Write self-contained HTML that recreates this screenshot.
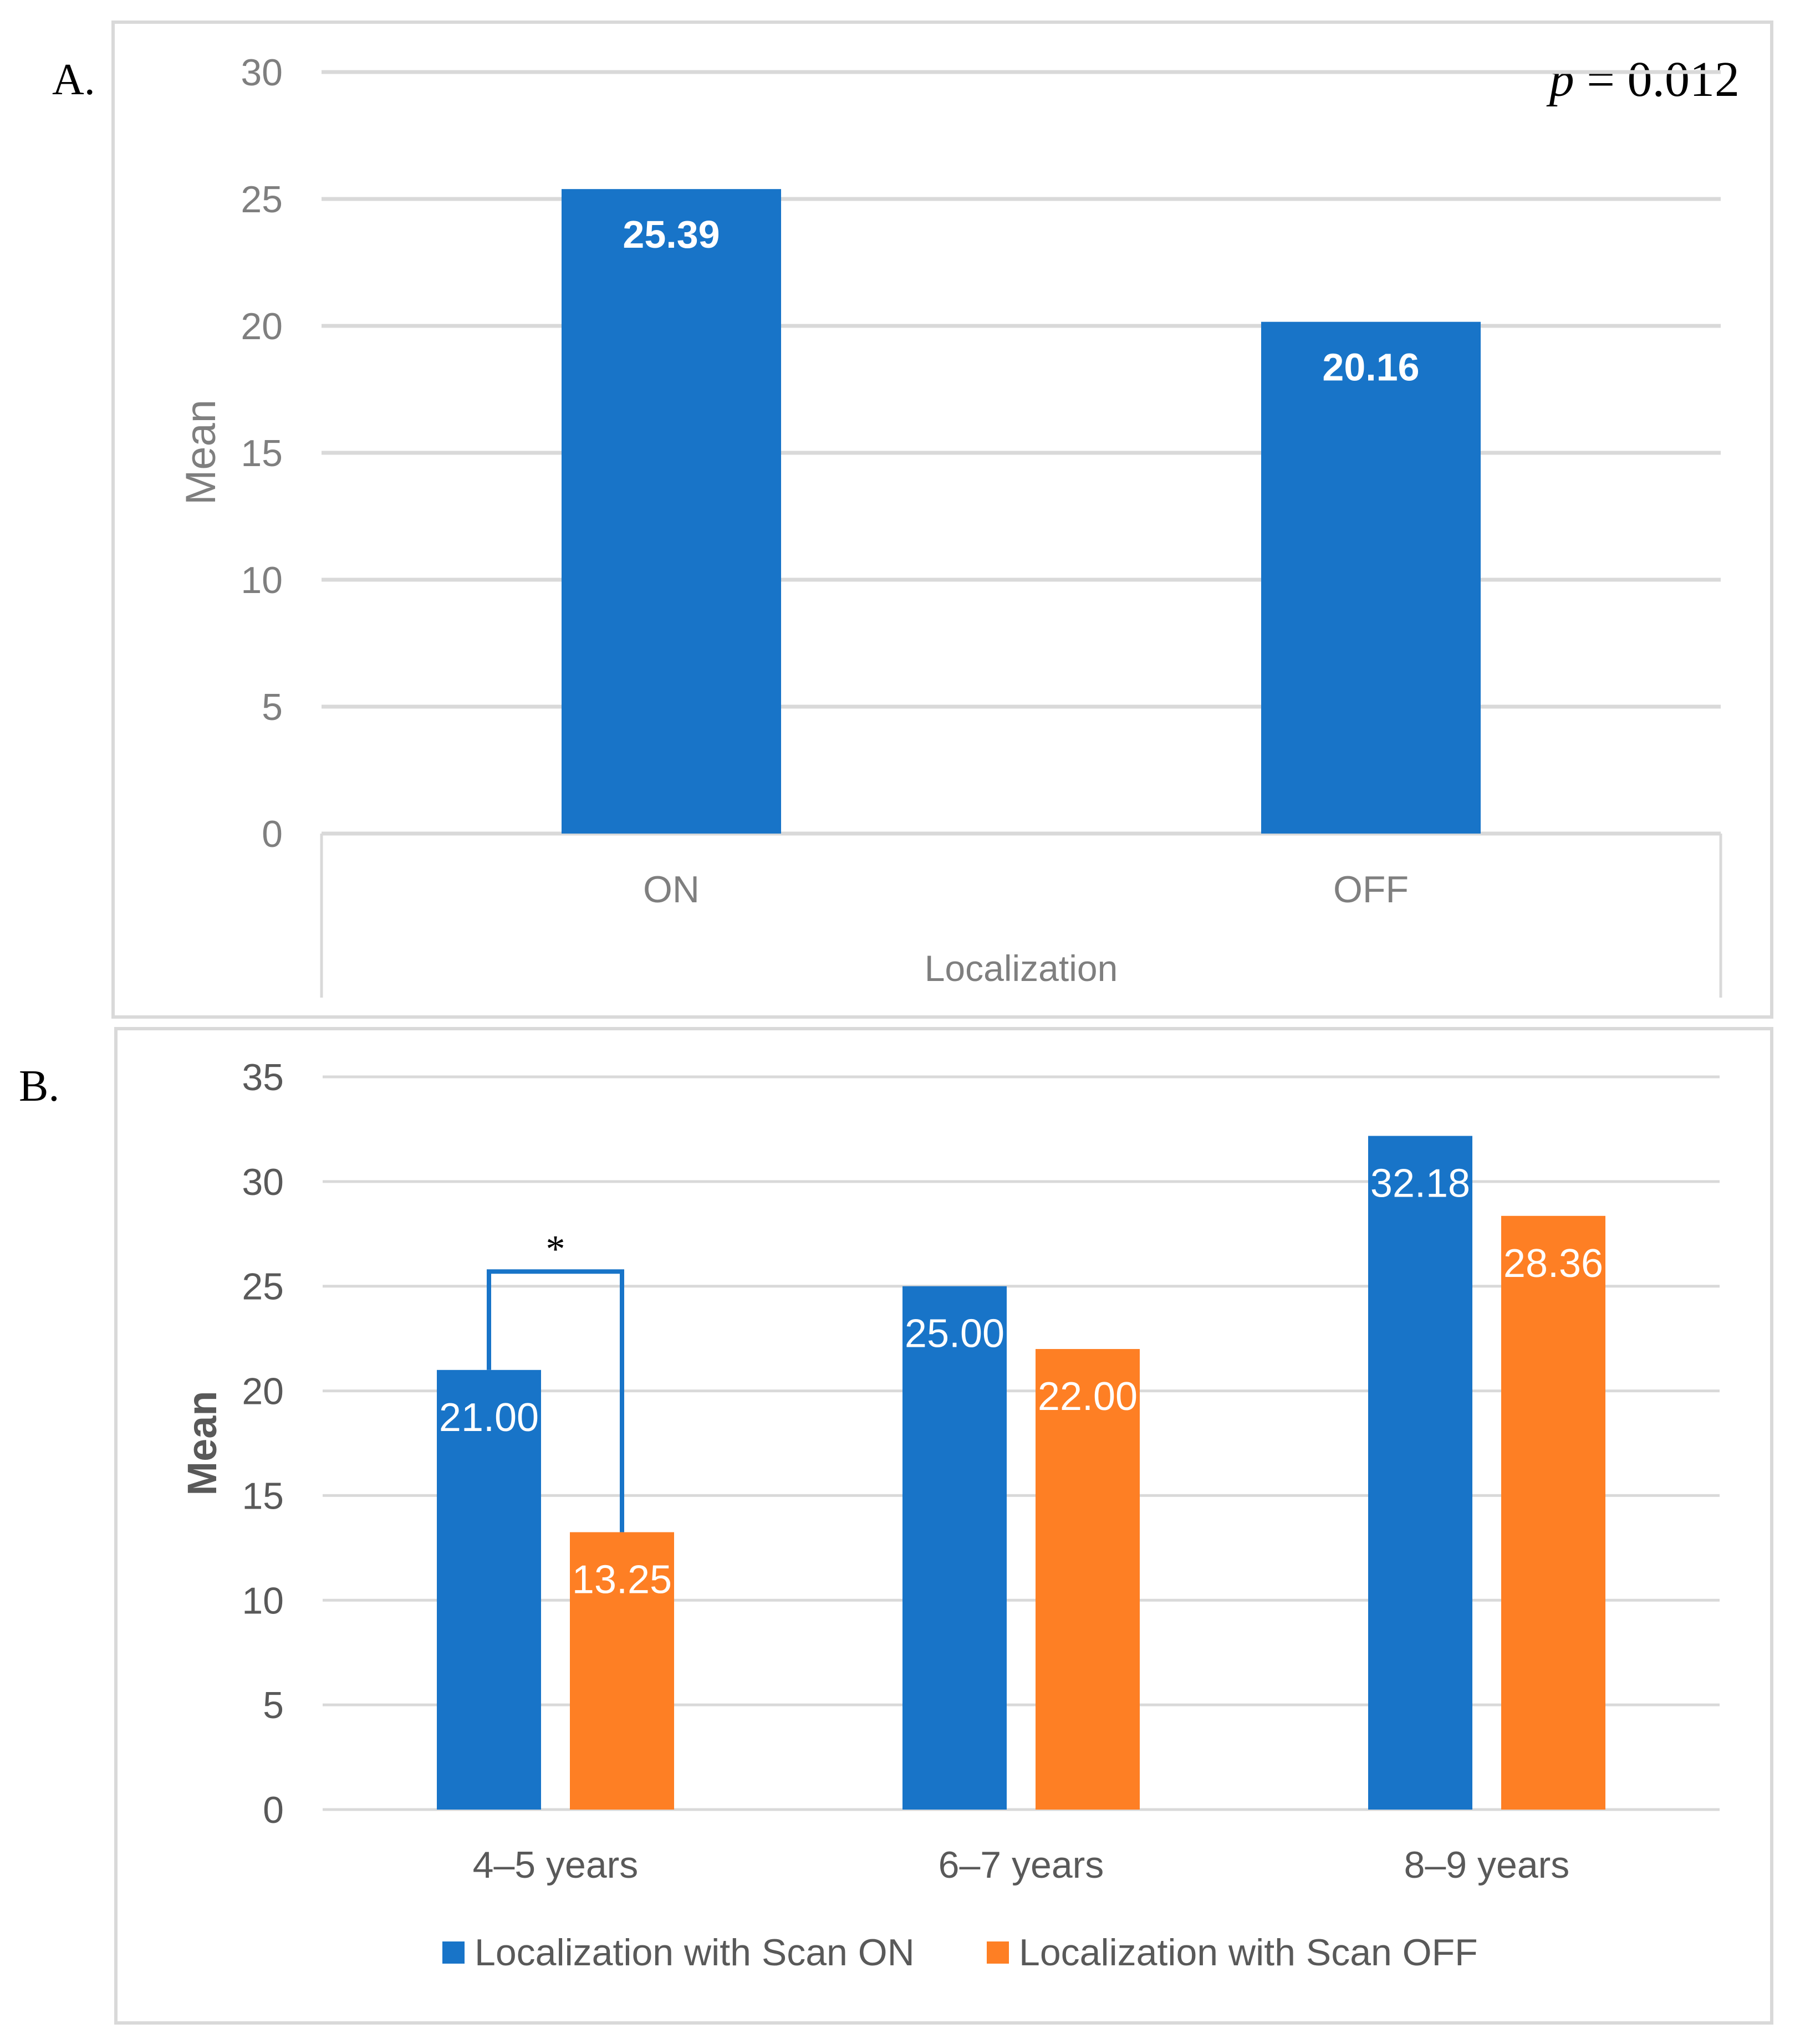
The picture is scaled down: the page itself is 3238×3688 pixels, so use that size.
<!DOCTYPE html>
<html><head><meta charset="utf-8">
<style>
html,body{margin:0;padding:0;background:#fff;}
svg{display:block;}
text{font-family:"Liberation Sans Narrow","Liberation Sans",sans-serif;}
</style></head>
<body>
<svg id="fig" width="3238" height="3688" viewBox="0 0 3238 3688" xmlns="http://www.w3.org/2000/svg">
<rect x="0" y="0" width="3238" height="3688" fill="#fff"/>
<!-- Panel A frame -->
<rect x="204" y="40" width="2992" height="1795" fill="none" stroke="#d9d9d9" stroke-width="6"/>
<text x="94" y="170" style="font-family:'Liberation Serif',serif" font-size="80" fill="#000">A.</text>
<text x="3138" y="173" text-anchor="end" style="font-family:'Liberation Serif',serif" font-size="90" fill="#000"><tspan font-style="italic">p</tspan> = 0.012</text>
<g id="gA"></g>
<text transform="translate(388,816) rotate(-90)" text-anchor="middle" style="font-family:'Liberation Sans',sans-serif" font-size="76" fill="#7f7f7f">Mean</text>
<text x="1842" y="1770" text-anchor="middle" font-size="66" fill="#7f7f7f">Localization</text>
<!-- Panel B frame -->
<rect x="209" y="1856" width="2987" height="1794" fill="none" stroke="#d9d9d9" stroke-width="6"/>
<text x="34" y="1986" style="font-family:'Liberation Serif',serif" font-size="80" fill="#000">B.</text>
<g id="gB"></g>
<text transform="translate(390,2604) rotate(-90)" text-anchor="middle" style="font-family:'Liberation Sans',sans-serif" font-weight="bold" font-size="74" fill="#595959">Mean</text>
</svg>
<script>
// Panel A data
const catsA = ["ON", "OFF"];
const valsA = [25.39, 20.16];
const labelsA = ["25.39", "20.16"];
const ticksA = [0, 5, 10, 15, 20, 25, 30];
// Panel B data
const catsB = ["4\u20135 years", "6\u20137 years", "8\u20139 years"];
const onB = [21.00, 25.00, 32.18];
const offB = [13.25, 22.00, 28.36];
const onLabelsB = ["21.00", "25.00", "32.18"];
const offLabelsB = ["13.25", "22.00", "28.36"];
const ticksB = [0, 5, 10, 15, 20, 25, 30, 35];
const sigTop = 25.7;

const NS = "http://www.w3.org/2000/svg";
function mk(tag, attrs, parent, txt) {
  const e = document.createElementNS(NS, tag);
  for (const k in attrs) e.setAttribute(k, attrs[k]);
  if (txt !== undefined) e.textContent = txt;
  parent.appendChild(e);
  return e;
}
const BLUE = "#1874c8", ORANGE = "#fe7f24";

// ---- Panel A ----
const gA = document.getElementById("gA");
const aX0 = 580, aX1 = 3104, aY0 = 1504, aY1 = 130, aMax = 30;
const yA = v => aY0 - (v / aMax) * (aY0 - aY1);
ticksA.forEach(t => {
  const l = mk("line", {x1: aX0, x2: aX1, y1: yA(t), y2: yA(t), stroke: "#d9d9d9", "stroke-width": 7}, gA);
  
  
  const tx = mk("text", {x: 510, y: yA(t) + 24, "text-anchor": "end", "font-size": 68, fill: "#7f7f7f"}, gA, String(t));
  
  
});
const box = mk("path", {d: `M${aX0},${aY0} V1800 M${aX1},${aY0} V1800`, stroke: "#d9d9d9", "stroke-width": 5, fill: "none"}, gA);


const bandA = (aX1 - aX0) / catsA.length, bwA = 396;
catsA.forEach((c, i) => {
  const cx = aX0 + bandA * (i + 0.5);
  const r = mk("rect", {x: cx - bwA / 2, y: yA(valsA[i]), width: bwA, height: aY0 - yA(valsA[i]), fill: BLUE}, gA);
  
  
  const v = mk("text", {x: cx, y: yA(valsA[i]) + 106, "text-anchor": "middle", "font-size": 70, "font-weight": "bold", fill: "#fff"}, gA, labelsA[i]);
  
  
  const cl = mk("text", {x: cx, y: 1628, "text-anchor": "middle", "font-size": 68, fill: "#7f7f7f"}, gA, c);
  
  
});

// ---- Panel B ----
const gB = document.getElementById("gB");
const bX0 = 582, bX1 = 3102, bY0 = 3265, bY1 = 1943, bMax = 35;
const yB = v => bY0 - (v / bMax) * (bY0 - bY1);
ticksB.forEach(t => {
  const l = mk("line", {x1: bX0, x2: bX1, y1: yB(t), y2: yB(t), stroke: "#d9d9d9", "stroke-width": 5}, gB);
  
  
  const tx = mk("text", {x: 512, y: yB(t) + 24, "text-anchor": "end", "font-size": 68, fill: "#595959"}, gB, String(t));
  
  
});
const bandB = (bX1 - bX0) / catsB.length, bwB = 188, gap = 52;
catsB.forEach((c, i) => {
  const cx = bX0 + bandB * (i + 0.5);
  const xOn = cx - gap / 2 - bwB, xOff = cx + gap / 2;
  const r1 = mk("rect", {x: xOn, y: yB(onB[i]), width: bwB, height: bY0 - yB(onB[i]), fill: BLUE}, gB);
  
  
  const r2 = mk("rect", {x: xOff, y: yB(offB[i]), width: bwB, height: bY0 - yB(offB[i]), fill: ORANGE}, gB);
  
  
  const v1 = mk("text", {x: xOn + bwB / 2, y: yB(onB[i]) + 110, "text-anchor": "middle", "font-size": 72, fill: "#fff"}, gB, onLabelsB[i]);
  
  
  const v2 = mk("text", {x: xOff + bwB / 2, y: yB(offB[i]) + 110, "text-anchor": "middle", "font-size": 72, fill: "#fff"}, gB, offLabelsB[i]);
  
  
  const cl = mk("text", {x: cx, y: 3388, "text-anchor": "middle", "font-size": 68, fill: "#595959"}, gB, c);
  
  
  if (i === 0) {
    const xa = xOn + bwB / 2, xb = xOff + bwB / 2;
    const br = mk("path", {d: `M${xa},${yB(onB[i])} V${yB(sigTop)} H${xb} V${yB(offB[i])}`, stroke: BLUE, "stroke-width": 8, fill: "none"}, gB);
    
    
    const st = mk("text", {x: (xa + xb) / 2, y: yB(sigTop) - 18, "text-anchor": "middle", "font-size": 70, fill: "#000", style: "font-family:'Liberation Serif',serif"}, gB, "*");
    
    
  }
});
// legend
const lg = mk("g", {}, gB);


const s1 = mk("rect", {x: 798, y: 3503, width: 40, height: 40, fill: BLUE}, lg);


const t1 = mk("text", {x: 856, y: 3546, "font-size": 68, fill: "#595959"}, lg, "Localization with Scan ON");


const s2 = mk("rect", {x: 1780, y: 3503, width: 40, height: 40, fill: ORANGE}, lg);


const t2 = mk("text", {x: 1838, y: 3546, "font-size": 68, fill: "#595959"}, lg, "Localization with Scan OFF");


</script>
</body></html>
